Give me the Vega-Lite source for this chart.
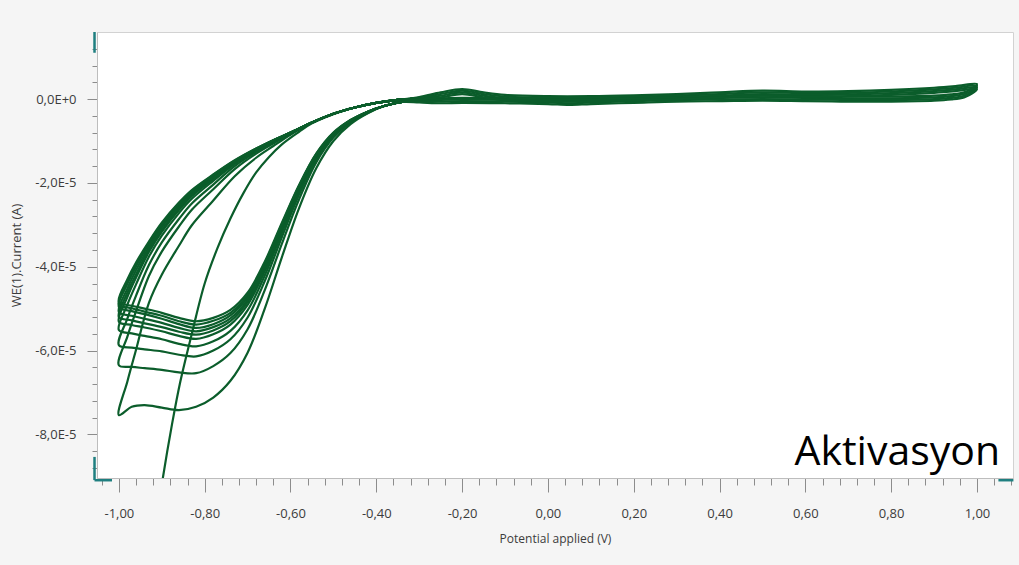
{
  "$schema": "https://vega.github.io/schema/vega-lite/v6.json",
  "width": 916,
  "height": 446,
  "autosize": {"type": "none"},
  "padding": {"left": 97, "top": 32, "right": 6, "bottom": 87},
  "background": "#f5f5f5",
  "config": {
    "view": {"fill": "#ffffff", "stroke": "#d2d2d2", "strokeWidth": 1},
    "axis": {"grid": false, "domainColor": "#bdbdbd", "tickColor": "#8c8c8c", "labelFont": "Open Sans", "labelFontSize": 13, "labelColor": "#3c3c3c", "titleFont": "Open Sans", "titleFontSize": 13, "titleFontWeight": "normal", "titleColor": "#3c3c3c"}
  },
  "datasets": {
    "cv": [
      {"s":0,"i":0,"v":-0.92,"a":-10.6e-5},{"s":0,"i":1,"v":-0.8975,"a":-9.04e-5},{"s":0,"i":2,"v":-0.876,"a":-7.75e-5},{"s":0,"i":3,"v":-0.857,"a":-6.75e-5},{"s":0,"i":4,"v":-0.83,"a":-5.6e-5},{"s":0,"i":5,"v":-0.8,"a":-4.4e-5},{"s":0,"i":6,"v":-0.77,"a":-3.55e-5},{"s":0,"i":7,"v":-0.74,"a":-2.85e-5},{"s":0,"i":8,"v":-0.71,"a":-2.25e-5},{"s":0,"i":9,"v":-0.68,"a":-1.75e-5},{"s":0,"i":10,"v":-0.65,"a":-1.38e-5},{"s":0,"i":11,"v":-0.62,"a":-1.08e-5},{"s":0,"i":12,"v":-0.58,"a":-0.78e-5},{"s":0,"i":13,"v":-0.55,"a":-0.58e-5},{"s":0,"i":14,"v":-0.5,"a":-0.36e-5},{"s":0,"i":15,"v":-0.45,"a":-0.2e-5},{"s":0,"i":16,"v":-0.4,"a":-0.09e-5},{"s":0,"i":17,"v":-0.35,"a":-0.02e-5},{"s":0,"i":18,"v":-0.3,"a":0.02e-5},

      {"s":1,"i":0,"v":-0.3,"a":-0.05e-5},{"s":1,"i":1,"v":-0.34,"a":-0.07e-5},{"s":1,"i":2,"v":-0.38,"a":-0.16e-5},{"s":1,"i":3,"v":-0.42,"a":-0.34e-5},{"s":1,"i":4,"v":-0.46,"a":-0.6e-5},{"s":1,"i":5,"v":-0.5,"a":-1.0e-5},{"s":1,"i":6,"v":-0.54,"a":-1.65e-5},{"s":1,"i":7,"v":-0.58,"a":-2.6e-5},{"s":1,"i":8,"v":-0.62,"a":-3.77e-5},{"s":1,"i":9,"v":-0.66,"a":-5.0e-5},{"s":1,"i":10,"v":-0.7,"a":-6.05e-5},{"s":1,"i":11,"v":-0.74,"a":-6.72e-5},{"s":1,"i":12,"v":-0.78,"a":-7.12e-5},{"s":1,"i":13,"v":-0.82,"a":-7.34e-5},{"s":1,"i":14,"v":-0.86,"a":-7.42e-5},{"s":1,"i":15,"v":-0.9,"a":-7.36e-5},{"s":1,"i":16,"v":-0.94,"a":-7.3e-5},{"s":1,"i":17,"v":-0.97,"a":-7.34e-5},{"s":1,"i":18,"v":-1.0,"a":-7.54e-5},
      {"s":1,"i":19,"v":-0.98,"a":-6.73e-5},{"s":1,"i":20,"v":-0.96,"a":-5.98e-5},{"s":1,"i":21,"v":-0.93,"a":-4.86e-5},{"s":1,"i":22,"v":-0.9,"a":-4.19e-5},{"s":1,"i":23,"v":-0.86,"a":-3.5e-5},{"s":1,"i":24,"v":-0.83,"a":-3.01e-5},{"s":1,"i":25,"v":-0.78,"a":-2.42e-5},{"s":1,"i":26,"v":-0.73,"a":-1.84e-5},{"s":1,"i":27,"v":-0.68,"a":-1.4e-5},{"s":1,"i":28,"v":-0.64,"a":-1.12e-5},{"s":1,"i":29,"v":-0.6,"a":-0.85e-5},{"s":1,"i":30,"v":-0.55,"a":-0.56e-5},{"s":1,"i":31,"v":-0.5,"a":-0.35e-5},{"s":1,"i":32,"v":-0.45,"a":-0.2e-5},{"s":1,"i":33,"v":-0.4,"a":-0.09e-5},{"s":1,"i":34,"v":-0.35,"a":-0.02e-5},{"s":1,"i":35,"v":-0.3,"a":0.02e-5},

      {"s":2,"i":0,"v":-0.3,"a":-0.05e-5},{"s":2,"i":1,"v":-0.34,"a":-0.07e-5},{"s":2,"i":2,"v":-0.38,"a":-0.16e-5},{"s":2,"i":3,"v":-0.42,"a":-0.33e-5},{"s":2,"i":4,"v":-0.46,"a":-0.56e-5},{"s":2,"i":5,"v":-0.5,"a":-0.92e-5},{"s":2,"i":6,"v":-0.54,"a":-1.51e-5},{"s":2,"i":7,"v":-0.58,"a":-2.39e-5},{"s":2,"i":8,"v":-0.62,"a":-3.45e-5},{"s":2,"i":9,"v":-0.66,"a":-4.56e-5},{"s":2,"i":10,"v":-0.7,"a":-5.49e-5},{"s":2,"i":11,"v":-0.74,"a":-6.06e-5},{"s":2,"i":12,"v":-0.78,"a":-6.37e-5},{"s":2,"i":13,"v":-0.82,"a":-6.54e-5},{"s":2,"i":14,"v":-0.86,"a":-6.52e-5},{"s":2,"i":15,"v":-0.9,"a":-6.46e-5},{"s":2,"i":16,"v":-0.94,"a":-6.42e-5},{"s":2,"i":17,"v":-0.97,"a":-6.39e-5},{"s":2,"i":18,"v":-1.0,"a":-6.35e-5},
      {"s":2,"i":19,"v":-0.98,"a":-5.66e-5},{"s":2,"i":20,"v":-0.96,"a":-5.06e-5},{"s":2,"i":21,"v":-0.93,"a":-4.22e-5},{"s":2,"i":22,"v":-0.9,"a":-3.64e-5},{"s":2,"i":23,"v":-0.86,"a":-3.04e-5},{"s":2,"i":24,"v":-0.83,"a":-2.64e-5},{"s":2,"i":25,"v":-0.78,"a":-2.15e-5},{"s":2,"i":26,"v":-0.73,"a":-1.67e-5},{"s":2,"i":27,"v":-0.68,"a":-1.3e-5},{"s":2,"i":28,"v":-0.64,"a":-1.06e-5},{"s":2,"i":29,"v":-0.6,"a":-0.83e-5},{"s":2,"i":30,"v":-0.55,"a":-0.56e-5},{"s":2,"i":31,"v":-0.5,"a":-0.35e-5},{"s":2,"i":32,"v":-0.45,"a":-0.2e-5},{"s":2,"i":33,"v":-0.4,"a":-0.09e-5},{"s":2,"i":34,"v":-0.35,"a":-0.02e-5},{"s":2,"i":35,"v":-0.3,"a":0.02e-5},

      {"s":3,"i":0,"v":-0.3,"a":-0.05e-5},{"s":3,"i":1,"v":-0.34,"a":-0.07e-5},{"s":3,"i":2,"v":-0.38,"a":-0.16e-5},{"s":3,"i":3,"v":-0.42,"a":-0.32e-5},{"s":3,"i":4,"v":-0.46,"a":-0.54e-5},{"s":3,"i":5,"v":-0.5,"a":-0.88e-5},{"s":3,"i":6,"v":-0.54,"a":-1.44e-5},{"s":3,"i":7,"v":-0.58,"a":-2.28e-5},{"s":3,"i":8,"v":-0.62,"a":-3.29e-5},{"s":3,"i":9,"v":-0.66,"a":-4.34e-5},{"s":3,"i":10,"v":-0.7,"a":-5.21e-5},{"s":3,"i":11,"v":-0.74,"a":-5.73e-5},{"s":3,"i":12,"v":-0.78,"a":-6.0e-5},{"s":3,"i":13,"v":-0.82,"a":-6.14e-5},{"s":3,"i":14,"v":-0.86,"a":-6.1e-5},{"s":3,"i":15,"v":-0.9,"a":-6.02e-5},{"s":3,"i":16,"v":-0.94,"a":-5.97e-5},{"s":3,"i":17,"v":-0.97,"a":-5.93e-5},{"s":3,"i":18,"v":-1.0,"a":-5.87e-5},
      {"s":3,"i":19,"v":-0.98,"a":-5.23e-5},{"s":3,"i":20,"v":-0.96,"a":-4.69e-5},{"s":3,"i":21,"v":-0.93,"a":-3.96e-5},{"s":3,"i":22,"v":-0.9,"a":-3.42e-5},{"s":3,"i":23,"v":-0.86,"a":-2.86e-5},{"s":3,"i":24,"v":-0.83,"a":-2.49e-5},{"s":3,"i":25,"v":-0.78,"a":-2.04e-5},{"s":3,"i":26,"v":-0.73,"a":-1.6e-5},{"s":3,"i":27,"v":-0.68,"a":-1.26e-5},{"s":3,"i":28,"v":-0.64,"a":-1.03e-5},{"s":3,"i":29,"v":-0.6,"a":-0.82e-5},{"s":3,"i":30,"v":-0.55,"a":-0.56e-5},{"s":3,"i":31,"v":-0.5,"a":-0.35e-5},{"s":3,"i":32,"v":-0.45,"a":-0.2e-5},{"s":3,"i":33,"v":-0.4,"a":-0.09e-5},{"s":3,"i":34,"v":-0.35,"a":-0.02e-5},{"s":3,"i":35,"v":-0.3,"a":0.02e-5},

      {"s":4,"i":0,"v":-0.3,"a":-0.05e-5},{"s":4,"i":1,"v":-0.34,"a":-0.07e-5},{"s":4,"i":2,"v":-0.38,"a":-0.16e-5},{"s":4,"i":3,"v":-0.42,"a":-0.31e-5},{"s":4,"i":4,"v":-0.46,"a":-0.53e-5},{"s":4,"i":5,"v":-0.5,"a":-0.86e-5},{"s":4,"i":6,"v":-0.54,"a":-1.4e-5},{"s":4,"i":7,"v":-0.58,"a":-2.21e-5},{"s":4,"i":8,"v":-0.62,"a":-3.19e-5},{"s":4,"i":9,"v":-0.66,"a":-4.21e-5},{"s":4,"i":10,"v":-0.7,"a":-5.04e-5},{"s":4,"i":11,"v":-0.74,"a":-5.53e-5},{"s":4,"i":12,"v":-0.78,"a":-5.78e-5},{"s":4,"i":13,"v":-0.82,"a":-5.9e-5},{"s":4,"i":14,"v":-0.86,"a":-5.84e-5},{"s":4,"i":15,"v":-0.9,"a":-5.73e-5},{"s":4,"i":16,"v":-0.94,"a":-5.65e-5},{"s":4,"i":17,"v":-0.97,"a":-5.59e-5},{"s":4,"i":18,"v":-1.0,"a":-5.51e-5},
      {"s":4,"i":19,"v":-0.98,"a":-4.9e-5},{"s":4,"i":20,"v":-0.96,"a":-4.42e-5},{"s":4,"i":21,"v":-0.93,"a":-3.76e-5},{"s":4,"i":22,"v":-0.9,"a":-3.26e-5},{"s":4,"i":23,"v":-0.86,"a":-2.72e-5},{"s":4,"i":24,"v":-0.83,"a":-2.38e-5},{"s":4,"i":25,"v":-0.78,"a":-1.95e-5},{"s":4,"i":26,"v":-0.73,"a":-1.55e-5},{"s":4,"i":27,"v":-0.68,"a":-1.23e-5},{"s":4,"i":28,"v":-0.64,"a":-1.01e-5},{"s":4,"i":29,"v":-0.6,"a":-0.81e-5},{"s":4,"i":30,"v":-0.55,"a":-0.56e-5},{"s":4,"i":31,"v":-0.5,"a":-0.35e-5},{"s":4,"i":32,"v":-0.45,"a":-0.2e-5},{"s":4,"i":33,"v":-0.4,"a":-0.09e-5},{"s":4,"i":34,"v":-0.35,"a":-0.02e-5},{"s":4,"i":35,"v":-0.3,"a":0.02e-5},

      {"s":5,"i":0,"v":-0.3,"a":-0.05e-5},{"s":5,"i":1,"v":-0.34,"a":-0.07e-5},{"s":5,"i":2,"v":-0.38,"a":-0.16e-5},{"s":5,"i":3,"v":-0.42,"a":-0.31e-5},{"s":5,"i":4,"v":-0.46,"a":-0.52e-5},{"s":5,"i":5,"v":-0.5,"a":-0.84e-5},{"s":5,"i":6,"v":-0.54,"a":-1.37e-5},{"s":5,"i":7,"v":-0.58,"a":-2.16e-5},{"s":5,"i":8,"v":-0.62,"a":-3.12e-5},{"s":5,"i":9,"v":-0.66,"a":-4.11e-5},{"s":5,"i":10,"v":-0.7,"a":-4.91e-5},{"s":5,"i":11,"v":-0.74,"a":-5.38e-5},{"s":5,"i":12,"v":-0.78,"a":-5.61e-5},{"s":5,"i":13,"v":-0.82,"a":-5.72e-5},{"s":5,"i":14,"v":-0.86,"a":-5.65e-5},{"s":5,"i":15,"v":-0.9,"a":-5.54e-5},{"s":5,"i":16,"v":-0.94,"a":-5.45e-5},{"s":5,"i":17,"v":-0.97,"a":-5.39e-5},{"s":5,"i":18,"v":-1.0,"a":-5.31e-5},
      {"s":5,"i":19,"v":-0.98,"a":-4.72e-5},{"s":5,"i":20,"v":-0.96,"a":-4.26e-5},{"s":5,"i":21,"v":-0.93,"a":-3.65e-5},{"s":5,"i":22,"v":-0.9,"a":-3.17e-5},{"s":5,"i":23,"v":-0.86,"a":-2.65e-5},{"s":5,"i":24,"v":-0.83,"a":-2.32e-5},{"s":5,"i":25,"v":-0.78,"a":-1.91e-5},{"s":5,"i":26,"v":-0.73,"a":-1.53e-5},{"s":5,"i":27,"v":-0.68,"a":-1.22e-5},{"s":5,"i":28,"v":-0.64,"a":-1.0e-5},{"s":5,"i":29,"v":-0.6,"a":-0.81e-5},{"s":5,"i":30,"v":-0.55,"a":-0.56e-5},{"s":5,"i":31,"v":-0.5,"a":-0.35e-5},{"s":5,"i":32,"v":-0.45,"a":-0.2e-5},{"s":5,"i":33,"v":-0.4,"a":-0.09e-5},{"s":5,"i":34,"v":-0.35,"a":-0.02e-5},{"s":5,"i":35,"v":-0.3,"a":0.02e-5},

      {"s":6,"i":0,"v":-0.3,"a":-0.05e-5},{"s":6,"i":1,"v":-0.34,"a":-0.07e-5},{"s":6,"i":2,"v":-0.38,"a":-0.16e-5},{"s":6,"i":3,"v":-0.42,"a":-0.31e-5},{"s":6,"i":4,"v":-0.46,"a":-0.52e-5},{"s":6,"i":5,"v":-0.5,"a":-0.83e-5},{"s":6,"i":6,"v":-0.54,"a":-1.35e-5},{"s":6,"i":7,"v":-0.58,"a":-2.14e-5},{"s":6,"i":8,"v":-0.62,"a":-3.08e-5},{"s":6,"i":9,"v":-0.66,"a":-4.06e-5},{"s":6,"i":10,"v":-0.7,"a":-4.84e-5},{"s":6,"i":11,"v":-0.74,"a":-5.3e-5},{"s":6,"i":12,"v":-0.78,"a":-5.52e-5},{"s":6,"i":13,"v":-0.82,"a":-5.62e-5},{"s":6,"i":14,"v":-0.86,"a":-5.55e-5},{"s":6,"i":15,"v":-0.9,"a":-5.44e-5},{"s":6,"i":16,"v":-0.94,"a":-5.35e-5},{"s":6,"i":17,"v":-0.97,"a":-5.28e-5},{"s":6,"i":18,"v":-1.0,"a":-5.2e-5},
      {"s":6,"i":19,"v":-0.98,"a":-4.62e-5},{"s":6,"i":20,"v":-0.96,"a":-4.18e-5},{"s":6,"i":21,"v":-0.93,"a":-3.59e-5},{"s":6,"i":22,"v":-0.9,"a":-3.12e-5},{"s":6,"i":23,"v":-0.86,"a":-2.61e-5},{"s":6,"i":24,"v":-0.83,"a":-2.28e-5},{"s":6,"i":25,"v":-0.78,"a":-1.88e-5},{"s":6,"i":26,"v":-0.73,"a":-1.51e-5},{"s":6,"i":27,"v":-0.68,"a":-1.21e-5},{"s":6,"i":28,"v":-0.64,"a":-1.0e-5},{"s":6,"i":29,"v":-0.6,"a":-0.81e-5},{"s":6,"i":30,"v":-0.55,"a":-0.56e-5},{"s":6,"i":31,"v":-0.5,"a":-0.35e-5},{"s":6,"i":32,"v":-0.45,"a":-0.2e-5},{"s":6,"i":33,"v":-0.4,"a":-0.09e-5},{"s":6,"i":34,"v":-0.35,"a":-0.02e-5},{"s":6,"i":35,"v":-0.3,"a":0.02e-5},

      {"s":7,"i":0,"v":-0.3,"a":-0.05e-5},{"s":7,"i":1,"v":-0.34,"a":-0.07e-5},{"s":7,"i":2,"v":-0.38,"a":-0.16e-5},{"s":7,"i":3,"v":-0.42,"a":-0.3e-5},{"s":7,"i":4,"v":-0.46,"a":-0.51e-5},{"s":7,"i":5,"v":-0.5,"a":-0.82e-5},{"s":7,"i":6,"v":-0.54,"a":-1.34e-5},{"s":7,"i":7,"v":-0.58,"a":-2.12e-5},{"s":7,"i":8,"v":-0.62,"a":-3.05e-5},{"s":7,"i":9,"v":-0.66,"a":-4.01e-5},{"s":7,"i":10,"v":-0.7,"a":-4.79e-5},{"s":7,"i":11,"v":-0.74,"a":-5.23e-5},{"s":7,"i":12,"v":-0.78,"a":-5.44e-5},{"s":7,"i":13,"v":-0.82,"a":-5.54e-5},{"s":7,"i":14,"v":-0.86,"a":-5.46e-5},{"s":7,"i":15,"v":-0.9,"a":-5.34e-5},{"s":7,"i":16,"v":-0.94,"a":-5.24e-5},{"s":7,"i":17,"v":-0.97,"a":-5.17e-5},{"s":7,"i":18,"v":-1.0,"a":-5.08e-5},
      {"s":7,"i":19,"v":-0.98,"a":-4.52e-5},{"s":7,"i":20,"v":-0.96,"a":-4.08e-5},{"s":7,"i":21,"v":-0.93,"a":-3.53e-5},{"s":7,"i":22,"v":-0.9,"a":-3.06e-5},{"s":7,"i":23,"v":-0.86,"a":-2.56e-5},{"s":7,"i":24,"v":-0.83,"a":-2.24e-5},{"s":7,"i":25,"v":-0.78,"a":-1.86e-5},{"s":7,"i":26,"v":-0.73,"a":-1.49e-5},{"s":7,"i":27,"v":-0.68,"a":-1.2e-5},{"s":7,"i":28,"v":-0.64,"a":-0.99e-5},{"s":7,"i":29,"v":-0.6,"a":-0.8e-5},{"s":7,"i":30,"v":-0.55,"a":-0.56e-5},{"s":7,"i":31,"v":-0.5,"a":-0.35e-5},{"s":7,"i":32,"v":-0.45,"a":-0.2e-5},{"s":7,"i":33,"v":-0.4,"a":-0.09e-5},{"s":7,"i":34,"v":-0.35,"a":-0.02e-5},{"s":7,"i":35,"v":-0.3,"a":0.02e-5},

      {"s":8,"i":0,"v":-0.3,"a":-0.05e-5},{"s":8,"i":1,"v":-0.34,"a":-0.07e-5},{"s":8,"i":2,"v":-0.38,"a":-0.16e-5},{"s":8,"i":3,"v":-0.42,"a":-0.3e-5},{"s":8,"i":4,"v":-0.46,"a":-0.51e-5},{"s":8,"i":5,"v":-0.5,"a":-0.82e-5},{"s":8,"i":6,"v":-0.54,"a":-1.33e-5},{"s":8,"i":7,"v":-0.58,"a":-2.09e-5},{"s":8,"i":8,"v":-0.62,"a":-3.01e-5},{"s":8,"i":9,"v":-0.66,"a":-3.97e-5},{"s":8,"i":10,"v":-0.7,"a":-4.73e-5},{"s":8,"i":11,"v":-0.74,"a":-5.16e-5},{"s":8,"i":12,"v":-0.78,"a":-5.37e-5},{"s":8,"i":13,"v":-0.82,"a":-5.46e-5},{"s":8,"i":14,"v":-0.86,"a":-5.37e-5},{"s":8,"i":15,"v":-0.9,"a":-5.24e-5},{"s":8,"i":16,"v":-0.94,"a":-5.13e-5},{"s":8,"i":17,"v":-0.97,"a":-5.06e-5},{"s":8,"i":18,"v":-1.0,"a":-4.96e-5},
      {"s":8,"i":19,"v":-0.98,"a":-4.41e-5},{"s":8,"i":20,"v":-0.96,"a":-3.99e-5},{"s":8,"i":21,"v":-0.93,"a":-3.46e-5},{"s":8,"i":22,"v":-0.9,"a":-3.01e-5},{"s":8,"i":23,"v":-0.86,"a":-2.52e-5},{"s":8,"i":24,"v":-0.83,"a":-2.21e-5},{"s":8,"i":25,"v":-0.78,"a":-1.83e-5},{"s":8,"i":26,"v":-0.73,"a":-1.48e-5},{"s":8,"i":27,"v":-0.68,"a":-1.19e-5},{"s":8,"i":28,"v":-0.64,"a":-0.98e-5},{"s":8,"i":29,"v":-0.6,"a":-0.8e-5},{"s":8,"i":30,"v":-0.55,"a":-0.56e-5},{"s":8,"i":31,"v":-0.5,"a":-0.35e-5},{"s":8,"i":32,"v":-0.45,"a":-0.2e-5},{"s":8,"i":33,"v":-0.4,"a":-0.09e-5},{"s":8,"i":34,"v":-0.35,"a":-0.02e-5},{"s":8,"i":35,"v":-0.3,"a":0.02e-5},

      {"s":9,"i":0,"v":-0.3,"a":-0.05e-5},{"s":9,"i":1,"v":-0.34,"a":-0.07e-5},{"s":9,"i":2,"v":-0.38,"a":-0.16e-5},{"s":9,"i":3,"v":-0.42,"a":-0.3e-5},{"s":9,"i":4,"v":-0.46,"a":-0.5e-5},{"s":9,"i":5,"v":-0.5,"a":-0.81e-5},{"s":9,"i":6,"v":-0.54,"a":-1.31e-5},{"s":9,"i":7,"v":-0.58,"a":-2.07e-5},{"s":9,"i":8,"v":-0.62,"a":-2.98e-5},{"s":9,"i":9,"v":-0.66,"a":-3.92e-5},{"s":9,"i":10,"v":-0.7,"a":-4.68e-5},{"s":9,"i":11,"v":-0.74,"a":-5.1e-5},{"s":9,"i":12,"v":-0.78,"a":-5.29e-5},{"s":9,"i":13,"v":-0.82,"a":-5.38e-5},{"s":9,"i":14,"v":-0.86,"a":-5.3e-5},{"s":9,"i":15,"v":-0.9,"a":-5.17e-5},{"s":9,"i":16,"v":-0.94,"a":-5.07e-5},{"s":9,"i":17,"v":-0.97,"a":-4.99e-5},{"s":9,"i":18,"v":-1.0,"a":-4.9e-5},
      {"s":9,"i":19,"v":-0.98,"a":-4.35e-5},{"s":9,"i":20,"v":-0.96,"a":-3.95e-5},{"s":9,"i":21,"v":-0.93,"a":-3.43e-5},{"s":9,"i":22,"v":-0.9,"a":-2.98e-5},{"s":9,"i":23,"v":-0.86,"a":-2.49e-5},{"s":9,"i":24,"v":-0.83,"a":-2.19e-5},{"s":9,"i":25,"v":-0.78,"a":-1.81e-5},{"s":9,"i":26,"v":-0.73,"a":-1.47e-5},{"s":9,"i":27,"v":-0.68,"a":-1.18e-5},{"s":9,"i":28,"v":-0.64,"a":-0.98e-5},{"s":9,"i":29,"v":-0.6,"a":-0.8e-5},{"s":9,"i":30,"v":-0.55,"a":-0.56e-5},{"s":9,"i":31,"v":-0.5,"a":-0.35e-5},{"s":9,"i":32,"v":-0.45,"a":-0.2e-5},{"s":9,"i":33,"v":-0.4,"a":-0.09e-5},{"s":9,"i":34,"v":-0.35,"a":-0.02e-5},{"s":9,"i":35,"v":-0.3,"a":0.02e-5},

      {"s":10,"i":0,"v":-0.3,"a":-0.05e-5},{"s":10,"i":1,"v":-0.34,"a":-0.07e-5},{"s":10,"i":2,"v":-0.38,"a":-0.16e-5},{"s":10,"i":3,"v":-0.42,"a":-0.3e-5},{"s":10,"i":4,"v":-0.46,"a":-0.5e-5},{"s":10,"i":5,"v":-0.5,"a":-0.8e-5},{"s":10,"i":6,"v":-0.54,"a":-1.3e-5},{"s":10,"i":7,"v":-0.58,"a":-2.05e-5},{"s":10,"i":8,"v":-0.62,"a":-2.95e-5},{"s":10,"i":9,"v":-0.66,"a":-3.88e-5},{"s":10,"i":10,"v":-0.7,"a":-4.62e-5},{"s":10,"i":11,"v":-0.74,"a":-5.03e-5},{"s":10,"i":12,"v":-0.78,"a":-5.22e-5},{"s":10,"i":13,"v":-0.82,"a":-5.3e-5},{"s":10,"i":14,"v":-0.86,"a":-5.22e-5},{"s":10,"i":15,"v":-0.9,"a":-5.1e-5},{"s":10,"i":16,"v":-0.94,"a":-5.0e-5},{"s":10,"i":17,"v":-0.97,"a":-4.93e-5},{"s":10,"i":18,"v":-1.0,"a":-4.84e-5},
      {"s":10,"i":19,"v":-0.98,"a":-4.3e-5},{"s":10,"i":20,"v":-0.96,"a":-3.9e-5},{"s":10,"i":21,"v":-0.93,"a":-3.4e-5},{"s":10,"i":22,"v":-0.9,"a":-2.95e-5},{"s":10,"i":23,"v":-0.86,"a":-2.47e-5},{"s":10,"i":24,"v":-0.83,"a":-2.17e-5},{"s":10,"i":25,"v":-0.78,"a":-1.8e-5},{"s":10,"i":26,"v":-0.73,"a":-1.46e-5},{"s":10,"i":27,"v":-0.68,"a":-1.18e-5},{"s":10,"i":28,"v":-0.64,"a":-0.98e-5},{"s":10,"i":29,"v":-0.6,"a":-0.8e-5},{"s":10,"i":30,"v":-0.55,"a":-0.56e-5},{"s":10,"i":31,"v":-0.5,"a":-0.35e-5},{"s":10,"i":32,"v":-0.45,"a":-0.2e-5},{"s":10,"i":33,"v":-0.4,"a":-0.09e-5},{"s":10,"i":34,"v":-0.35,"a":-0.02e-5},{"s":10,"i":35,"v":-0.3,"a":0.02e-5},

      {"s":11,"i":-2,"v":-0.4,"a":-0.09e-5},{"s":11,"i":-1,"v":-0.35,"a":-0.02e-5},
      {"s":11,"i":0,"v":-0.3,"a":0.05e-5},{"s":11,"i":1,"v":-0.25,"a":0.16e-5},{"s":11,"i":2,"v":-0.2,"a":0.24e-5},{"s":11,"i":3,"v":-0.15,"a":0.16e-5},{"s":11,"i":4,"v":-0.1,"a":0.1e-5},{"s":11,"i":5,"v":0.0,"a":0.07e-5},{"s":11,"i":6,"v":0.1,"a":0.07e-5},{"s":11,"i":7,"v":0.2,"a":0.09e-5},{"s":11,"i":8,"v":0.3,"a":0.12e-5},{"s":11,"i":9,"v":0.4,"a":0.16e-5},{"s":11,"i":10,"v":0.5,"a":0.2e-5},{"s":11,"i":11,"v":0.6,"a":0.18e-5},{"s":11,"i":12,"v":0.7,"a":0.19e-5},{"s":11,"i":13,"v":0.8,"a":0.22e-5},{"s":11,"i":14,"v":0.9,"a":0.27e-5},{"s":11,"i":15,"v":0.95,"a":0.31e-5},{"s":11,"i":16,"v":1.0,"a":0.36e-5},
      {"s":11,"i":17,"v":0.99,"a":0.26e-5},{"s":11,"i":18,"v":0.97,"a":0.16e-5},{"s":11,"i":19,"v":0.94,"a":0.11e-5},{"s":11,"i":20,"v":0.9,"a":0.08e-5},{"s":11,"i":21,"v":0.8,"a":0.06e-5},{"s":11,"i":22,"v":0.7,"a":0.06e-5},{"s":11,"i":23,"v":0.6,"a":0.07e-5},{"s":11,"i":24,"v":0.5,"a":0.08e-5},{"s":11,"i":25,"v":0.4,"a":0.07e-5},{"s":11,"i":26,"v":0.3,"a":0.06e-5},{"s":11,"i":27,"v":0.2,"a":0.03e-5},{"s":11,"i":28,"v":0.1,"a":0.0},{"s":11,"i":29,"v":0.05,"a":-0.02e-5},{"s":11,"i":30,"v":0.0,"a":0.0},{"s":11,"i":31,"v":-0.1,"a":0.02e-5},{"s":11,"i":32,"v":-0.2,"a":0.03e-5},{"s":11,"i":33,"v":-0.25,"a":0.02e-5},{"s":11,"i":34,"v":-0.3,"a":-0.02e-5},{"s":11,"i":35,"v":-0.34,"a":-0.07e-5},{"s":11,"i":36,"v":-0.38,"a":-0.16e-5},

      {"s":12,"i":-2,"v":-0.4,"a":-0.09e-5},{"s":12,"i":-1,"v":-0.35,"a":-0.02e-5},
      {"s":12,"i":0,"v":-0.3,"a":0.03e-5},{"s":12,"i":1,"v":-0.25,"a":0.12e-5},{"s":12,"i":2,"v":-0.2,"a":0.2e-5},{"s":12,"i":3,"v":-0.15,"a":0.12e-5},{"s":12,"i":4,"v":-0.1,"a":0.06e-5},{"s":12,"i":5,"v":0.0,"a":0.03e-5},{"s":12,"i":6,"v":0.1,"a":0.03e-5},{"s":12,"i":7,"v":0.2,"a":0.05e-5},{"s":12,"i":8,"v":0.3,"a":0.08e-5},{"s":12,"i":9,"v":0.4,"a":0.12e-5},{"s":12,"i":10,"v":0.5,"a":0.16e-5},{"s":12,"i":11,"v":0.6,"a":0.14e-5},{"s":12,"i":12,"v":0.7,"a":0.15e-5},{"s":12,"i":13,"v":0.8,"a":0.18e-5},{"s":12,"i":14,"v":0.9,"a":0.23e-5},{"s":12,"i":15,"v":0.95,"a":0.27e-5},{"s":12,"i":16,"v":1.0,"a":0.32e-5},
      {"s":12,"i":17,"v":0.99,"a":0.22e-5},{"s":12,"i":18,"v":0.97,"a":0.12e-5},{"s":12,"i":19,"v":0.94,"a":0.07e-5},{"s":12,"i":20,"v":0.9,"a":0.04e-5},{"s":12,"i":21,"v":0.8,"a":0.02e-5},{"s":12,"i":22,"v":0.7,"a":0.02e-5},{"s":12,"i":23,"v":0.6,"a":0.03e-5},{"s":12,"i":24,"v":0.5,"a":0.04e-5},{"s":12,"i":25,"v":0.4,"a":0.03e-5},{"s":12,"i":26,"v":0.3,"a":0.02e-5},{"s":12,"i":27,"v":0.2,"a":-0.01e-5},{"s":12,"i":28,"v":0.1,"a":-0.04e-5},{"s":12,"i":29,"v":0.05,"a":-0.06e-5},{"s":12,"i":30,"v":0.0,"a":-0.04e-5},{"s":12,"i":31,"v":-0.1,"a":-0.02e-5},{"s":12,"i":32,"v":-0.2,"a":-0.01e-5},{"s":12,"i":33,"v":-0.25,"a":-0.02e-5},{"s":12,"i":34,"v":-0.3,"a":-0.04e-5},{"s":12,"i":35,"v":-0.34,"a":-0.07e-5},{"s":12,"i":36,"v":-0.38,"a":-0.16e-5},

      {"s":13,"i":-2,"v":-0.4,"a":-0.09e-5},{"s":13,"i":-1,"v":-0.35,"a":-0.02e-5},
      {"s":13,"i":0,"v":-0.3,"a":0.01e-5},{"s":13,"i":1,"v":-0.25,"a":0.08e-5},{"s":13,"i":2,"v":-0.2,"a":0.16e-5},{"s":13,"i":3,"v":-0.15,"a":0.08e-5},{"s":13,"i":4,"v":-0.1,"a":0.02e-5},{"s":13,"i":5,"v":0.0,"a":-0.01e-5},{"s":13,"i":6,"v":0.1,"a":-0.01e-5},{"s":13,"i":7,"v":0.2,"a":0.01e-5},{"s":13,"i":8,"v":0.3,"a":0.04e-5},{"s":13,"i":9,"v":0.4,"a":0.08e-5},{"s":13,"i":10,"v":0.5,"a":0.12e-5},{"s":13,"i":11,"v":0.6,"a":0.1e-5},{"s":13,"i":12,"v":0.7,"a":0.11e-5},{"s":13,"i":13,"v":0.8,"a":0.14e-5},{"s":13,"i":14,"v":0.9,"a":0.19e-5},{"s":13,"i":15,"v":0.95,"a":0.23e-5},{"s":13,"i":16,"v":1.0,"a":0.28e-5},
      {"s":13,"i":17,"v":0.99,"a":0.18e-5},{"s":13,"i":18,"v":0.97,"a":0.08e-5},{"s":13,"i":19,"v":0.94,"a":0.03e-5},{"s":13,"i":20,"v":0.9,"a":0.0},{"s":13,"i":21,"v":0.8,"a":-0.02e-5},{"s":13,"i":22,"v":0.7,"a":-0.02e-5},{"s":13,"i":23,"v":0.6,"a":-0.01e-5},{"s":13,"i":24,"v":0.5,"a":0.0},{"s":13,"i":25,"v":0.4,"a":-0.01e-5},{"s":13,"i":26,"v":0.3,"a":-0.02e-5},{"s":13,"i":27,"v":0.2,"a":-0.05e-5},{"s":13,"i":28,"v":0.1,"a":-0.08e-5},{"s":13,"i":29,"v":0.05,"a":-0.1e-5},{"s":13,"i":30,"v":0.0,"a":-0.08e-5},{"s":13,"i":31,"v":-0.1,"a":-0.06e-5},{"s":13,"i":32,"v":-0.2,"a":-0.05e-5},{"s":13,"i":33,"v":-0.25,"a":-0.06e-5},{"s":13,"i":34,"v":-0.3,"a":-0.06e-5},{"s":13,"i":35,"v":-0.34,"a":-0.07e-5},{"s":13,"i":36,"v":-0.38,"a":-0.16e-5},

      {"s":14,"i":-2,"v":-0.4,"a":-0.09e-5},{"s":14,"i":-1,"v":-0.35,"a":-0.02e-5},
      {"s":14,"i":0,"v":-0.3,"a":-0.01e-5},{"s":14,"i":1,"v":-0.25,"a":0.04e-5},{"s":14,"i":2,"v":-0.2,"a":0.12e-5},{"s":14,"i":3,"v":-0.15,"a":0.04e-5},{"s":14,"i":4,"v":-0.1,"a":-0.02e-5},{"s":14,"i":5,"v":0.0,"a":-0.05e-5},{"s":14,"i":6,"v":0.1,"a":-0.05e-5},{"s":14,"i":7,"v":0.2,"a":-0.03e-5},{"s":14,"i":8,"v":0.3,"a":0.0},{"s":14,"i":9,"v":0.4,"a":0.04e-5},{"s":14,"i":10,"v":0.5,"a":0.08e-5},{"s":14,"i":11,"v":0.6,"a":0.06e-5},{"s":14,"i":12,"v":0.7,"a":0.07e-5},{"s":14,"i":13,"v":0.8,"a":0.1e-5},{"s":14,"i":14,"v":0.9,"a":0.15e-5},{"s":14,"i":15,"v":0.95,"a":0.19e-5},{"s":14,"i":16,"v":1.0,"a":0.24e-5},
      {"s":14,"i":17,"v":0.99,"a":0.14e-5},{"s":14,"i":18,"v":0.97,"a":0.04e-5},{"s":14,"i":19,"v":0.94,"a":-0.01e-5},{"s":14,"i":20,"v":0.9,"a":-0.04e-5},{"s":14,"i":21,"v":0.8,"a":-0.06e-5},{"s":14,"i":22,"v":0.7,"a":-0.06e-5},{"s":14,"i":23,"v":0.6,"a":-0.05e-5},{"s":14,"i":24,"v":0.5,"a":-0.04e-5},{"s":14,"i":25,"v":0.4,"a":-0.05e-5},{"s":14,"i":26,"v":0.3,"a":-0.06e-5},{"s":14,"i":27,"v":0.2,"a":-0.09e-5},{"s":14,"i":28,"v":0.1,"a":-0.12e-5},{"s":14,"i":29,"v":0.05,"a":-0.14e-5},{"s":14,"i":30,"v":0.0,"a":-0.12e-5},{"s":14,"i":31,"v":-0.1,"a":-0.1e-5},{"s":14,"i":32,"v":-0.2,"a":-0.09e-5},{"s":14,"i":33,"v":-0.25,"a":-0.1e-5},{"s":14,"i":34,"v":-0.3,"a":-0.08e-5},{"s":14,"i":35,"v":-0.34,"a":-0.07e-5},{"s":14,"i":36,"v":-0.38,"a":-0.16e-5}
    ]
  },
  "layer": [
    {
      "data": {"values": [{"v": 0, "a": 0}]},
      "mark": {"type": "point", "opacity": 0},
      "encoding": {
        "x": {"field": "v", "type": "quantitative", "scale": {"domain": [-1.051, 1.084], "nice": false, "zero": false},
          "axis": {"orient": "bottom", "values": [-1.04,-1.0,-0.96,-0.92,-0.88,-0.84,-0.8,-0.76,-0.72,-0.68,-0.64,-0.6,-0.56,-0.52,-0.48,-0.44,-0.4,-0.36,-0.32,-0.28,-0.24,-0.2,-0.16,-0.12,-0.08,-0.04,0,0.04,0.08,0.12,0.16,0.2,0.24,0.28,0.32,0.36,0.4,0.44,0.48,0.52,0.56,0.6,0.64,0.68,0.72,0.76,0.8,0.84,0.88,0.92,0.96,1.0,1.04,1.08], "tickSize": 7, "labels": false, "domain": false, "title": null}},
        "y": {"field": "a", "type": "quantitative", "scale": {"domain": [-9.04e-5, 1.6e-5], "nice": false, "zero": false},
          "axis": {"orient": "left", "values": [-8.8e-5,-8.4e-5,-8.0e-5,-7.6e-5,-7.2e-5,-6.8e-5,-6.4e-5,-6.0e-5,-5.6e-5,-5.2e-5,-4.8e-5,-4.4e-5,-4.0e-5,-3.6e-5,-3.2e-5,-2.8e-5,-2.4e-5,-2.0e-5,-1.6e-5,-1.2e-5,-0.8e-5,-0.4e-5,0,0.4e-5,0.8e-5,1.2e-5], "tickSize": 5, "labels": false, "domain": false, "title": null}}
      }
    },
    {
      "data": {"name": "cv"},
      "mark": {"type": "line", "interpolate": "catmull-rom", "clip": true, "color": "#0b5d2b", "strokeWidth": 2.2},
      "encoding": {
        "x": {"field": "v", "type": "quantitative",
          "axis": {"orient": "bottom", "values": [-1,-0.8,-0.6,-0.4,-0.2,0,0.2,0.4,0.6,0.8,1], "tickSize": 14, "labelPadding": 15,
            "labelExpr": "(datum.value < 0 ? '-' : '') + replace(format(abs(datum.value), '.2f'), '.', ',')",
            "title": "Potential applied (V)", "titleFontSize": 12, "titlePadding": 13}},
        "y": {"field": "a", "type": "quantitative",
          "axis": {"orient": "left", "values": [-8e-5,-6e-5,-4e-5,-2e-5,0], "tickSize": 10, "labelPadding": 11,
            "labelExpr": "datum.value == 0 ? '0,0E+0' : '-' + replace(format(abs(datum.value) * 100000, '.1f'), '.', ',') + 'E-5'",
            "title": "WE(1).Current (A)", "titlePadding": 11}},
        "detail": {"field": "s", "type": "nominal"},
        "order": {"field": "i", "type": "quantitative"}
      }
    },
    {
      "data": {"values": [{"label": "Aktivasyon"}]},
      "mark": {"type": "text", "align": "right", "baseline": "alphabetic", "font": "Open Sans", "fontSize": 41, "color": "#000000"},
      "encoding": {
        "text": {"field": "label", "type": "nominal"},
        "x": {"datum": 1.054, "type": "quantitative", "axis": null},
        "y": {"datum": -8.735e-5, "type": "quantitative", "axis": null}
      }
    },
    {
      "data": {"values": [{}]},
      "mark": {"type": "rule", "color": "#1f7f80", "strokeWidth": 2.5},
      "encoding": {
        "x": {"datum": -1.0568, "type": "quantitative", "axis": null},
        "y": {"datum": 1.6e-5, "type": "quantitative", "axis": null},
        "y2": {"datum": 1.105e-5}
      }
    },
    {
      "data": {"values": [{}]},
      "mark": {"type": "rule", "color": "#1f7f80", "strokeWidth": 2.5},
      "encoding": {
        "x": {"datum": -1.0568, "type": "quantitative", "axis": null},
        "y": {"datum": -9.09e-5, "type": "quantitative", "axis": null},
        "y2": {"datum": -8.537e-5}
      }
    },
    {
      "data": {"values": [{}]},
      "mark": {"type": "rule", "color": "#1f7f80", "strokeWidth": 2.5},
      "encoding": {
        "x": {"datum": -1.0568, "type": "quantitative", "axis": null},
        "x2": {"datum": -1.016},
        "y": {"datum": -9.093e-5, "type": "quantitative", "axis": null}
      }
    },
    {
      "data": {"values": [{}]},
      "mark": {"type": "rule", "color": "#1f7f80", "strokeWidth": 2.5},
      "encoding": {
        "x": {"datum": 1.05, "type": "quantitative", "axis": null},
        "x2": {"datum": 1.085},
        "y": {"datum": -9.093e-5, "type": "quantitative", "axis": null}
      }
    }
  ],
  "resolve": {"axis": {"x": "independent", "y": "independent"}}
}
